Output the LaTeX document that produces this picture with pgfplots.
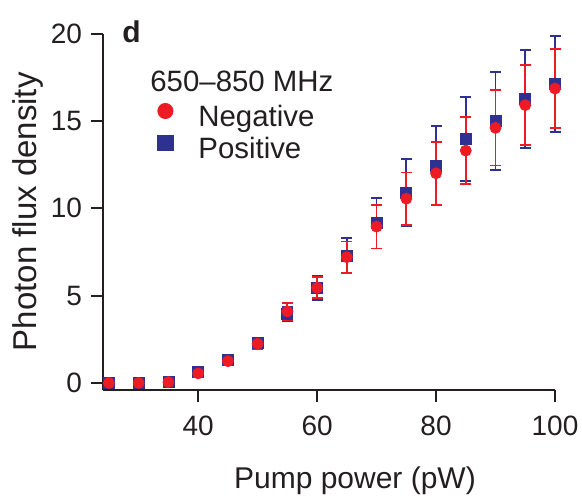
\documentclass[border=0pt]{standalone}
\usepackage{fontspec}
\setmainfont{Liberation Sans}
\usepackage{pgfplots}
\usepackage{pgfplotstable}
\pgfplotsset{compat=1.18}
\definecolor{nred}{RGB}{237,28,36}
\definecolor{nblue}{RGB}{46,49,146}
\definecolor{txt}{RGB}{35,31,32}
\pgfplotstableread{
x y e
25 0.00 0.05
30 0.00 0.05
35 0.05 0.10
40 0.55 0.15
45 1.25 0.20
50 2.25 0.30
55 4.10 0.50
60 5.45 0.60
65 7.20 0.90
70 8.95 1.25
75 10.55 1.50
80 12.00 1.80
85 13.30 1.90
90 14.60 2.15
95 15.90 2.30
100 16.85 2.25
}\negative
\pgfplotstableread{
x y e
25 0.00 0.05
30 0.00 0.05
35 0.05 0.10
40 0.65 0.15
45 1.30 0.20
50 2.30 0.30
55 3.95 0.40
60 5.45 0.70
65 7.30 1.00
70 9.15 1.45
75 10.90 1.90
80 12.45 2.25
85 13.95 2.40
90 15.00 2.80
95 16.25 2.80
100 17.10 2.75
}\positive
\begin{document}
\begin{tikzpicture}
\useasboundingbox (-51.5pt,-54pt) rectangle (239.5pt,195pt);
\begin{axis}[
  scale only axis, width=226pt, height=178.25pt,
  at={(0pt,0pt)}, anchor=south west,
  xmin=24, xmax=100, ymin=-0.4, ymax=20,
  axis lines=left,
  axis line style={-, line width=1pt, draw=txt},
  xtick={40,60,80,100}, ytick={0,5,10,15,20},
  tick align=outside, major tick length=6pt,
  tick style={line width=1pt, draw=txt},
  tick label style={font=\fontsize{14}{16}\selectfont, text=txt},
  xticklabel style={yshift=-3.5pt},
  yticklabel style={xshift=-1pt},
  /pgf/number format/assume math mode=true,
  xlabel={Pump power (pW)}, ylabel={Photon flux density},
  xlabel style={font=\fontsize{15}{17}\selectfont, text=txt, at={(rel axis cs:0.5575,0)}, anchor=base, yshift=-49pt},
  ylabel style={font=\fontsize{16.5}{18}\selectfont, text=txt, at={([xshift=-33pt]rel axis cs:0,0.5)}, anchor=base},
  clip=false,
  legend style={draw=none, fill=none, inner sep=0pt, at={([xshift=27.2pt,yshift=143.5pt]rel axis cs:0,0)}, anchor=north west,
    font=\fontsize{14.7}{16}\selectfont, text=txt, column sep=12.7pt, row sep=0pt,
    nodes={inner sep=0pt, text height=11pt, text depth=4pt}},
  legend cell align=left,
  reverse legend,
  legend image code/.code={\draw[#1, mark size=3.8pt] plot coordinates {(0pt,4.5pt)};},
]
\addplot[only marks, mark=square*, mark size=2.75pt, color=nblue, mark options={draw=none, fill=nblue},
  error bars/.cd, y dir=both, y explicit, error bar style={line width=0.9pt, color=nblue},
  error mark options={rotate=90, line width=0.9pt, mark size=2.75pt, color=nblue}]
  table[x=x, y=y, y error=e] {\positive};
\addlegendentry{Positive}
\addplot[only marks, mark=*, mark size=2.75pt, color=nred, mark options={draw=none, fill=nred},
  error bars/.cd, y dir=both, y explicit, error bar style={line width=0.9pt, color=nred},
  error mark options={rotate=90, line width=0.9pt, mark size=2.75pt, color=nred}]
  table[x=x, y=y, y error=e] {\negative};
\addlegendentry{Negative}
\node[anchor=base west, inner sep=0pt, font=\fontsize{15}{17}\selectfont\bfseries, text=txt] at ([xshift=9.5pt,yshift=173.5pt]rel axis cs:0,0) {d};
\node[anchor=base west, inner sep=0pt, font=\fontsize{14.7}{16}\selectfont, text=txt] at ([xshift=23.5pt,yshift=149pt]rel axis cs:0,0) {650–850 MHz};
\end{axis}
\end{tikzpicture}
\end{document}
